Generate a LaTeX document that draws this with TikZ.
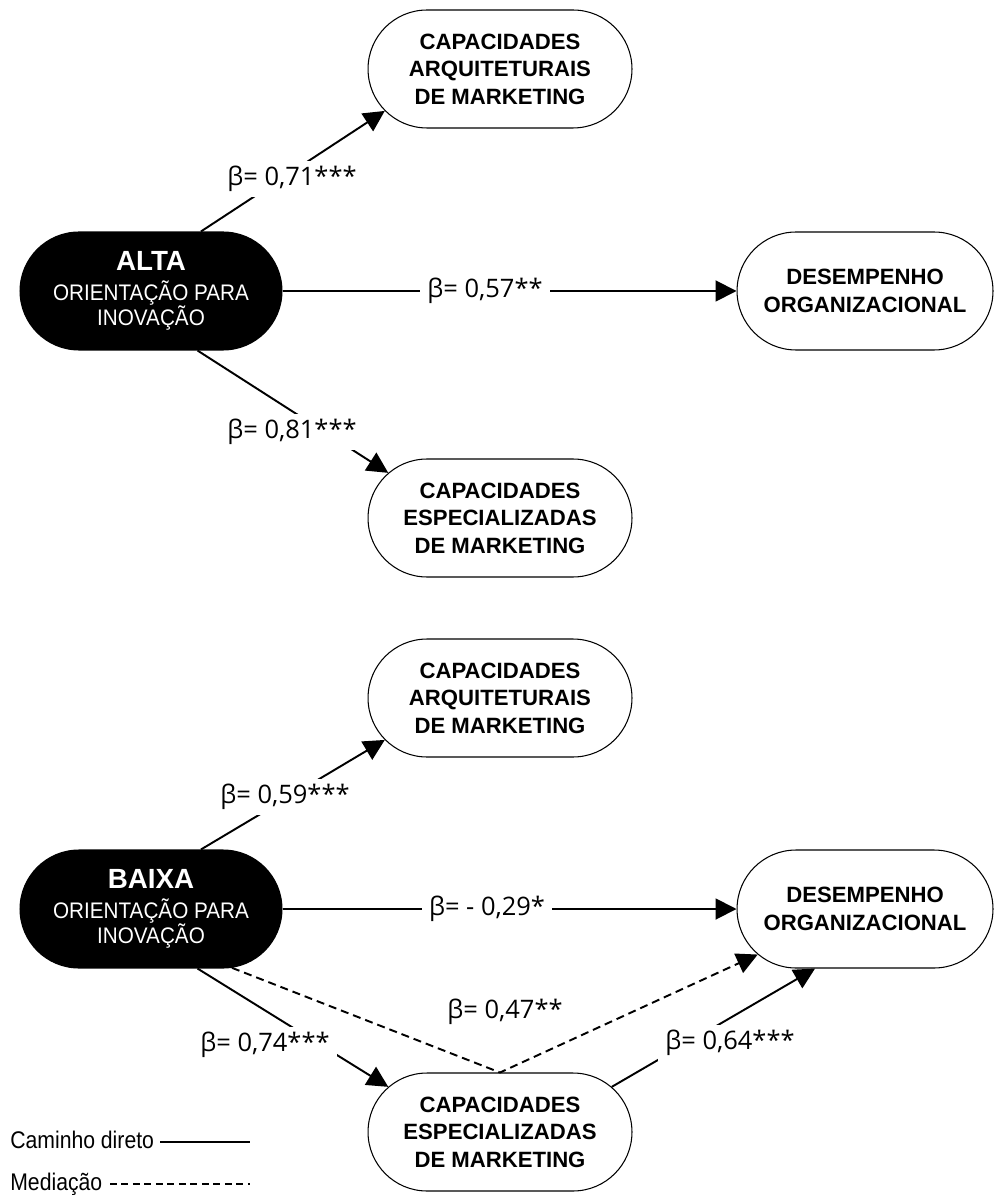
\documentclass[tikz,border=0pt]{standalone}
\usepackage{fontspec}
\setmainfont{Liberation Sans}
\newfontfamily\coeffont{Open Sans}
\newfontfamily\narrowfont[FakeStretch=0.92]{Liberation Sans}
\newfontfamily\legfont[FakeStretch=0.88]{Liberation Sans}
\usetikzlibrary{arrows.meta,shapes.misc}

\begin{document}
\begin{tikzpicture}[x=0.02cm,y=-0.02cm,
    box/.style={draw,line width=0.6pt,rounded rectangle,minimum width=5.28cm,minimum height=2.36cm,inner sep=0pt,align=center,font=\bfseries\fontsize{12.6}{15.6}\selectfont},
    lead/.style={box,fill=black,text=white,minimum width=5.24cm,font=\narrowfont\fontsize{12.8}{14.4}\selectfont},
    arr/.style={-{Triangle[length=0.42cm,width=0.42cm]},line width=1.1pt},
    med/.style={arr,dash pattern=on 0.16cm off 0.1cm},
    coef/.style={fill=white,inner xsep=4pt,inner ysep=3pt,font=\coeffont\fontsize{14.5}{15}\selectfont},
    leg/.style={anchor=base west,inner sep=0pt,font=\legfont\fontsize{13.7}{15}\selectfont}]
  \useasboundingbox (0,0) rectangle (995,1195);
  \node[lead] (alta) at (151,291) {{\normalfont\bfseries\fontsize{15.8}{17}\selectfont ALTA}\\[2.6pt]ORIENTAÇÃO PARA\\INOVAÇÃO};
  \node[box] (arqa) at (500,69) {CAPACIDADES\\ARQUITETURAIS\\DE MARKETING};
  \node[box,minimum width=5.12cm] (desa) at (865,291) {DESEMPENHO\\ORGANIZACIONAL};
  \node[box] (espa) at (500,518) {CAPACIDADES\\ESPECIALIZADAS\\DE MARKETING};
  \node[lead] (baixa) at (151,909) {{\normalfont\bfseries\fontsize{15.8}{17}\selectfont BAIXA}\\[2.6pt]ORIENTAÇÃO PARA\\INOVAÇÃO};
  \node[box] (arqb) at (500,698) {CAPACIDADES\\ARQUITETURAIS\\DE MARKETING};
  \node[box,minimum width=5.12cm] (desb) at (865,909) {DESEMPENHO\\ORGANIZACIONAL};
  \node[box] (espb) at (500,1132) {CAPACIDADES\\ESPECIALIZADAS\\DE MARKETING};
  \draw[arr] (alta.50) -- (arqa.200);
  \draw[arr] (alta.east) -- (desa.west);
  \draw[arr] (alta.-52) -- (espa.158);
  \draw[arr] (baixa.50) -- (arqb.200);
  \draw[arr] (baixa.east) -- (desb.west);
  \draw[arr] (baixa.-52) -- (espb.158);
  \draw[arr] (espb.22) -- (desb.230);
  \draw[med] (baixa.-36) -- (espb.north) -- (desb.203);
  \node[coef] (c71) at (292,179) {β= 0,71***};
  \node[coef] (c57) at (485,291) {β= 0,57**};
  \node[coef] (c81) at (292,432) {β= 0,81***};
  \node[coef] (c59) at (285,797) {β= 0,59***};
  \node[coef] (c29) at (487,909) {β= - 0,29*};
  \node[coef] (c74) at (265,1045) {β= 0,74***};
  \node[coef] (c47) at (505,1012) {β= 0,47**};
  \node[coef] (c64) at (730,1043) {β= 0,64***};
  \node[leg] (legdir) at (10,1148) {Caminho direto};
  \node[leg] (legmed) at (10,1190) {Mediação};
  \coordinate (legdirbeg) at (160,1142);
  \coordinate (legdirend) at (250,1142);
  \coordinate (legmedbeg) at (110,1184);
  \coordinate (legmedend) at (250,1184);
  \draw[line width=1.1pt] (legdirbeg) -- (legdirend);
  \draw[line width=0.9pt,dash pattern=on 0.14cm off 0.09cm] (legmedbeg) -- (legmedend);
\end{tikzpicture}
\end{document}
